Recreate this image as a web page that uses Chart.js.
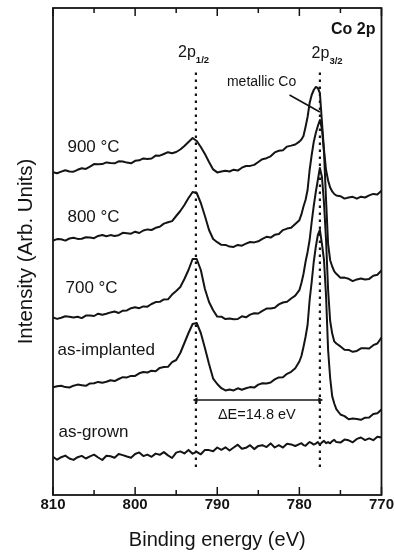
<!DOCTYPE html>
<html>
<head>
<meta charset="utf-8">
<script src="https://cdn.jsdelivr.net/npm/chart.js@4.4.0/dist/chart.umd.min.js"></script>
<style>
  html, body { margin: 0; padding: 0; background: #fff; }
  canvas { display: block; }
</style>
</head>
<body>
<canvas id="xps" width="395" height="555"></canvas>
<script>
// binding energy grid (eV), finer around the 2p3/2 line
const energies = [
  810, 809.5, 809, 808.5, 808, 807.5, 807, 806.5, 806, 805.5,
  805, 804.5, 804, 803.5, 803, 802.5, 802, 801.5, 801, 800.5,
  800, 799.5, 799, 798.5, 798, 797.5, 797, 796.5, 796, 795.5,
  795, 794.5, 794, 793.5, 793, 792.5, 792, 791.5, 791, 790.5,
  790, 789.5, 789, 788.5, 788, 787.5, 787, 786.5, 786, 785.5,
  785, 784.5, 784, 783.5, 783, 782.5, 782, 781.5, 781, 780.5,
  780, 779.75, 779.5, 779.25, 779, 778.75, 778.5, 778.25, 778, 777.75,
  777.5, 777.25, 777, 776.75, 776.5, 776.25, 776, 775.75, 775.5,
  775, 774.5, 774, 773.5, 773, 772.5, 772, 771.5, 771, 770.5, 770
];

// intensities (arb. units, spectra already offset vertically)
const asGrown = [
  38.2, 35.3, 37.8, 39.4, 36.5, 35.1, 37.8, 39.1, 36.5, 38.6,
  40.3, 37.5, 35.0, 39.3, 38.7, 37.2, 41.0, 39.9, 38.5, 37.3,
  41.0, 42.6, 38.9, 40.4, 38.2, 41.4, 40.2, 42.9, 39.6, 37.0,
  42.4, 43.6, 41.6, 45.1, 41.3, 43.2, 40.7, 45.1, 44.9, 43.7,
  47.5, 45.2, 47.7, 44.5, 47.5, 50.3, 46.3, 47.2, 49.8, 45.9,
  49.1, 49.8, 47.9, 51.6, 47.5, 49.8, 47.4, 51.2, 50.6, 49.0,
  50.9, 51.8, 49.9, 49.3, 51.2, 53.0, 51.8, 50.4, 51.4, 53.0,
  50.4, 52.6, 54.1, 51.8, 52.9, 51.7, 53.9, 55.2, 52.9,
  52.4, 55.4, 54.7, 52.7, 56.1, 57.5, 54.9, 56.6, 54.8, 58.3, 57.4
];
const asImplanted = [
  107.6, 108.8, 109.2, 107.9, 107.5, 109.3, 110.4, 109.8, 109.2, 111.6,
  111.7, 113.1, 112.3, 113.2, 114.8, 113.9, 116.0, 117.8, 117.6, 119.1,
  119.1, 121.7, 123.0, 122.5, 124.3, 123.8, 127.1, 127.9, 128.2, 132.9,
  135, 142, 152, 162, 171, 172, 162, 147, 131, 116.4,
  111.0, 106.8, 104.6, 105.5, 104.6, 106.7, 105.3, 106.7, 107.9, 107.4,
  110.4, 111.8, 111.5, 112.5, 115.6, 117.6, 117.7, 121.2, 123.2, 126.7,
  133.5, 139, 148, 158, 170, 195, 213, 233, 248, 260,
  265, 251, 235, 199, 145, 117, 98.6, 91.5, 85.8,
  80.5, 78.9, 75.8, 76.4, 76.1, 75.2, 77.3, 77.4, 80.9, 81.8, 85.5
];
const annealed700 = [
  177.5, 176.1, 177.2, 178.7, 178.2, 177.4, 178.2, 176.9, 179.4, 179.4,
  179.0, 181.3, 180.2, 181.3, 182.6, 183.5, 182.0, 184.3, 184.6, 186.8,
  187.7, 186.8, 188.6, 188.3, 191.0, 192.9, 193.2, 195.6, 195.7, 200.4,
  204, 208, 216, 225, 236, 236, 225, 206, 193, 184.7,
  178.4, 178.3, 175.9, 176.4, 175.7, 176.0, 178.7, 177.7, 180.4, 181.7,
  181.5, 184.2, 186.4, 186.6, 187.3, 190.6, 192.5, 193.2, 196.5, 199.3,
  204.8, 212, 221, 233, 243, 255, 273, 289, 303, 315,
  327, 318, 292, 255, 205, 174, 161.4, 153.6, 151.5,
  148.6, 145.2, 145.1, 143.2, 144.1, 146.7, 146.7, 146.5, 149.8, 151.5, 157.4
];
const annealed800 = [
  254.4, 255.9, 255.7, 254.4, 256.5, 257.3, 256.1, 256.2, 257.7, 257.6,
  256.8, 259.1, 260.0, 258.7, 259.9, 259.1, 259.8, 262.2, 261.8, 261.3,
  263.3, 262.0, 264.5, 265.6, 265.0, 267.2, 268.2, 271.4, 272.8, 273.9,
  279, 284, 290, 297, 303, 302, 292, 279, 265, 256.0,
  252.8, 250.2, 250.1, 248.4, 248.1, 250.1, 249.3, 251.3, 253.0, 252.6,
  253.7, 256.2, 258.2, 257.4, 260.2, 261.0, 264.9, 266.4, 267.3, 271.0,
  274.8, 280.6, 288.5, 295, 305, 325, 340, 353, 362, 369,
  375, 366, 343, 295, 251, 234.8, 228.5, 223.6, 221.2,
  217.3, 217.4, 216.2, 213.9, 215.6, 216.5, 215.5, 216.1, 219.3, 220.3, 224.6
];
const annealed900 = [
  322.9, 321.8, 323.4, 324.8, 323.5, 323.3, 325.2, 326.8, 326.1, 328.3,
  330.9, 330.7, 330.9, 332.6, 332.1, 331.7, 333.7, 333.5, 332.4, 331.7,
  334.2, 334.7, 336.6, 336.1, 336.5, 339.4, 339.3, 341.0, 342.8, 341.8,
  343, 345.5, 349, 353, 357, 354, 348, 341, 333, 325.6,
  322.6, 323.4, 324.2, 323.5, 325.3, 324.4, 327.3, 329.0, 329.1, 330.1,
  333.0, 335.8, 336.8, 338.7, 342.6, 344.2, 344.8, 348.4, 349.4, 350.5,
  353.4, 355.5, 359, 368, 378, 392, 400, 405, 408, 407,
  402, 373, 345, 325, 314.5, 307.4, 303.6, 301.0, 299.5,
  298.8, 296.4, 297.5, 298.2, 296.3, 298.3, 297.5, 299.6, 301.1, 300.6, 304.3
];

const spectra = [asGrown, asImplanted, annealed700, annealed800, annealed900];
const seriesNames = ['as-grown', 'as-implanted', '700 °C', '800 °C', '900 °C'];
const nameSpots = [[809.33, 63], [809.45, 145], [808.48, 207], [808.24, 278], [808.24, 348]];

const tickLabels = [810, 800, 790, 780, 770];
const peakLines = [792.6, 777.5];      // 2p1/2 and 2p3/2 markers
const peakLineSpan = [28, 425];
const splitLevel = 95;                  // level of the ΔE arrow
const metallicPointer = [[781.2, 400], [777.5, 383]];

const ink = '#141414';
const family = '"Liberation Sans", Arial, sans-serif';
Chart.defaults.font.family = family;
Chart.defaults.color = ink;

const notes = [
  ...seriesNames.map((n, k) => ({e: nameSpots[k][0], i: nameSpots[k][1], parts: [[n, 17, 400, 0]]})),
  {e: 770.74, i: 465, align: 'right', parts: [['Co 2p', 16, 700, 0]]},
  {e: 794.77, i: 442, parts: [['2p', 16, 400, 0], ['1/2', 9.5, 700, 7]]},
  {e: 778.51, i: 441, parts: [['2p', 16, 400, 0], ['3/2', 9.5, 700, 7]]},
  {e: 788.82, i: 413, parts: [['metallic Co', 14, 400, 0]]},
  {e: 785.18, i: 80, align: 'center', parts: [['ΔE=14.8 eV', 14.5, 400, 0]]}
];

function drawNote(ctx, note, px, py) {
  const runs = note.parts.map(([text, size, weight, dy]) => {
    ctx.font = `${weight} ${size}px ${family}`;
    return {text, font: ctx.font, dy, w: ctx.measureText(text).width};
  });
  const total = runs.reduce((s, r) => s + r.w, 0);
  let cx = px;
  if (note.align === 'right') cx = px - total;
  if (note.align === 'center') cx = px - total / 2;
  runs.forEach(r => {
    ctx.font = r.font;
    ctx.fillText(r.text, cx, py + r.dy);
    cx += r.w;
  });
}

const decor = {
  id: 'decor',
  afterDraw(chart) {
    const {ctx, chartArea: a, scales: {x, y}} = chart;
    ctx.save();
    ctx.strokeStyle = ink;
    ctx.lineWidth = 1.8;
    ctx.strokeRect(a.left, a.top, a.right - a.left, a.bottom - a.top);
    // inward ticks on bottom and top
    ctx.lineWidth = 1.5;
    x.ticks.forEach(t => {
      const px = x.getPixelForValue(t.value);
      const len = tickLabels.includes(t.value) ? 8 : 5;
      ctx.beginPath();
      ctx.moveTo(px, a.bottom);
      ctx.lineTo(px, a.bottom - len);
      ctx.moveTo(px, a.top);
      ctx.lineTo(px, a.top + len);
      ctx.stroke();
    });
    ctx.fillStyle = ink;
    ctx.textBaseline = 'middle';
    ctx.textAlign = 'left';
    notes.forEach(n => drawNote(ctx, n, x.getPixelForValue(n.e), y.getPixelForValue(n.i)));
    ctx.restore();
  }
};

const lineStyle = {borderColor: ink, pointRadius: 0, tension: 0, fill: false};

const datasets = [
  ...spectra.map((vals, k) => ({
    ...lineStyle,
    label: seriesNames[k],
    data: energies.map((e, j) => ({x: e, y: vals[j]})),
    borderWidth: 2,
    borderJoinStyle: 'round'
  })),
  ...peakLines.map(p => ({
    ...lineStyle,
    label: 'marker ' + p,
    data: [{x: p, y: peakLineSpan[0]}, {x: p, y: peakLineSpan[1]}],
    borderWidth: 2.2,
    borderDash: [2.4, 4.6]
  })),
  {
    ...lineStyle,
    label: 'splitting',
    data: peakLines.map(p => ({x: p, y: splitLevel})),
    borderWidth: 1.6,
    pointRadius: 3.2,
    pointStyle: 'triangle',
    pointRotation: c => c.dataIndex === 0 ? -90 : 90,
    pointBackgroundColor: ink,
    pointBorderWidth: 0
  },
  {
    ...lineStyle,
    label: 'pointer',
    data: metallicPointer.map(([e, i]) => ({x: e, y: i})),
    borderWidth: 1.6
  }
];

new Chart(document.getElementById('xps'), {
  type: 'line',
  data: {datasets},
  options: {
    responsive: false,
    animation: false,
    devicePixelRatio: 1,
    layout: {padding: {top: 8, right: 13, left: 0, bottom: 0}},
    plugins: {legend: {display: false}, tooltip: {enabled: false}},
    scales: {
      x: {
        type: 'linear',
        reverse: true,
        min: 770,
        max: 810,
        grid: {display: false, drawTicks: false},
        border: {display: false},
        ticks: {
          stepSize: 5,
          autoSkip: false,
          maxRotation: 0,
          padding: 1,
          font: {size: 15, weight: 'bold'},
          color: ink,
          callback: v => tickLabels.includes(v) ? String(v) : ''
        },
        title: {display: true, text: 'Binding energy (eV)', font: {size: 20}, color: ink, padding: {top: 0, bottom: 3}},
        afterFit: s => { s.height = 60; }
      },
      y: {
        type: 'linear',
        min: 0,
        max: 487,
        grid: {display: false, drawTicks: false},
        border: {display: false},
        ticks: {display: false},
        title: {display: true, text: 'Intensity (Arb. Units)', font: {size: 20.5}, color: ink, padding: {top: 14, bottom: 0}},
        afterFit: s => { s.width = 53; }
      }
    }
  },
  plugins: [decor]
});
</script>
</body>
</html>
